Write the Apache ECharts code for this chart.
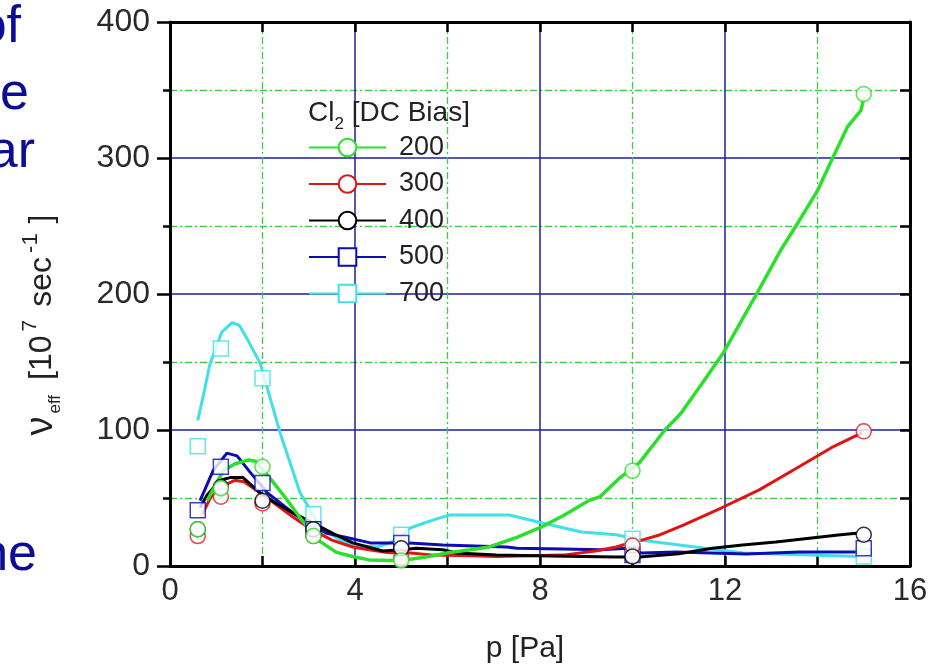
<!DOCTYPE html>
<html>
<head>
<meta charset="utf-8">
<script src="https://cdn.jsdelivr.net/npm/echarts@6/dist/echarts.min.js"></script>
<style>
html,body{margin:0;padding:0;background:#fff;}
#main{width:934px;height:668px;}
</style>
</head>
<body>
<div id="main"></div>
<script>
// legend names (DC bias)
var biasNames = ['200', '300', '400', '500', '700'];
var xTicks = [0, 4, 8, 12, 16];
var yTicks = [0, 100, 200, 300, 400];

// measured points (markers)
var marks200 = [[0.6,27],[1.1,57],[2.0,73],[3.1,22],[5.0,4],[10.0,70],[15.0,347]];
var marks300 = [[0.6,22],[1.1,51],[2.0,46],[3.1,22],[5.0,6],[10.0,15],[15.0,99]];
var marks400 = [[0.6,27],[1.1,58],[2.0,48],[3.1,27],[5.0,13],[10.0,7],[15.0,23]];
var marks500 = [[0.6,41],[1.1,73],[2.0,61],[3.1,27],[5.0,17],[10.0,8],[15.0,13]];
var marks700 = [[0.6,88],[1.1,160],[2.0,138],[3.1,38],[5.0,23],[10.0,20],[15.0,7]];

// fitted curves
var curve200 = [[0.8,48],[1.15,70],[1.4,75],[1.7,78],[1.85,77],[2.2,63],[2.5,50],[2.8,36],[3.2,19],[3.6,10],[3.95,7],[4.3,4.5],[4.75,4],[5.2,5],[5.6,7],[6.05,10],[6.5,12],[6.9,14],[7.5,21],[8.05,29],[8.5,37],[9.05,48],[9.3,51],[9.7,64],[10.15,76],[10.7,100],[11.04,112],[11.5,134],[11.97,157],[12.7,201],[13.2,232],[13.57,252],[14.0,276],[14.3,298],[14.65,323],[14.94,335],[15.0,344]];
var curve300 = [[0.7,38],[0.87,50],[1.15,59],[1.4,63],[1.6,62],[1.94,54],[2.3,45],[2.66,36],[2.96,29],[3.5,19],[3.95,14],[4.3,12],[4.7,10],[5.2,9.5],[5.7,8],[6.5,7.5],[7.06,7],[8.5,8],[9.2,11],[9.65,14],[9.9,16.5],[10.2,19],[10.6,23],[11.1,30],[11.94,43],[12.74,56],[13.6,73],[14.3,87],[14.97,98]];
var curve400 = [[0.65,43],[0.8,52],[1.08,63],[1.3,65],[1.58,65],[1.94,54],[2.3,46],[2.66,39],[2.96,34],[3.52,24],[3.95,17],[4.6,11],[5.0,12],[5.33,13],[5.9,12],[6.2,9.5],[7.06,8],[8.2,7.4],[9.65,6.6],[10.15,6.6],[11.0,9],[11.73,13],[12.38,15.4],[13.1,17.6],[13.97,21],[14.5,23],[14.84,24]];
var curve500 = [[0.65,48],[0.93,70],[1.23,83],[1.45,81],[1.73,69],[2.1,54],[2.66,39],[2.87,34],[3.39,24],[3.82,21],[4.33,17],[5.18,17],[5.9,15.4],[7.28,14],[7.5,13],[8.5,12.5],[9.3,12],[9.9,13],[10.2,9.5],[10.95,10.3],[12.46,8.8],[13.6,10.3],[14.97,10.3]];
var curve700 = [[0.6,107],[0.75,130],[0.86,148],[1.12,172],[1.34,179],[1.5,177],[1.7,165],[1.95,149],[2.38,98],[2.81,54],[3.24,29],[3.68,19],[3.96,15],[4.5,14],[4.9,19],[5.2,28],[5.5,31.6],[5.8,35],[6.05,37.5],[7.34,37.5],[8.0,32],[8.9,25],[9.65,23],[10.2,19],[11.1,15],[12.4,9.5],[14.9,7]];

var colors = {'200':'#2be02b','300':'#e01414','400':'#000000','500':'#0c0cb4','700':'#3fe0e6'};
var curves = {'200':curve200,'300':curve300,'400':curve400,'500':curve500,'700':curve700};
var marks = {'200':marks200,'300':marks300,'400':marks400,'500':marks500,'700':marks700};
var symbols = {'200':'emptyCircle','300':'emptyCircle','400':'emptyCircle','500':'emptyRect','700':'emptyRect'};

var myChart = echarts.init(document.getElementById('main'));
var font = '"Liberation Sans", Arial, sans-serif';
var blueGrid = '#1e1e9e';
var greenGrid = '#3ccf3c';
var slideBlue = '#0c0c96';
var ink = '#222';

var series = [];
var drawOrder = ['700', '500', '300', '400', '200'];
drawOrder.forEach(function (k) {
    series.push({
        name: k,
        type: 'line',
        data: curves[k],
        symbol: symbols[k],
        showSymbol: false,
        symbolSize: 16,
        animation: false,
        lineStyle: {color: colors[k], width: k === '200' ? 3.5 : 3},
        itemStyle: {color: colors[k]},
        z: 3
    });
});
drawOrder.forEach(function (k) {
    series.push({
        name: k,
        type: 'scatter',
        data: marks[k],
        symbol: symbols[k] === 'emptyRect' ? 'rect' : 'circle',
        symbolSize: 15,
        animation: false,
        itemStyle: {color: '#fff', borderColor: colors[k], borderWidth: 1.5},
        z: 5
    });
});

function rt(size, va, pad) {
    return {fontSize: size, color: ink, fontFamily: font, lineHeight: 44, verticalAlign: va, padding: [0, 0, 0, pad]};
}

var option = {
    backgroundColor: '#fff',
    textStyle: {fontFamily: font},
    grid: {left: 170, right: 24, top: 22, bottom: 102, containLabel: false, outerBoundsMode: 'none'},
    title: {
        text: '{a|Cl}{s|2}{a| [DC Bias]}',
        left: 303,
        top: 94,
        textStyle: {
            fontWeight: 'normal',
            rich: {
                a: {fontSize: 28, color: ink, fontFamily: font, fontWeight: 'normal', lineHeight: 34, verticalAlign: 'top'},
                s: {fontSize: 17, color: ink, fontFamily: font, fontWeight: 'normal', lineHeight: 34, verticalAlign: 'bottom'}
            }
        }
    },
    legend: {
        data: biasNames,
        orient: 'vertical',
        left: 303,
        top: 129,
        itemWidth: 77,
        itemHeight: 22,
        itemGap: 9.5,
        selectedMode: false,
        textStyle: {fontSize: 27, color: ink, fontFamily: font, padding: [0, 0, 0, 8]}
    },
    xAxis: [{
        type: 'value',
        min: 0,
        max: 16,
        interval: 4,
        name: 'p [Pa]',
        nameLocation: 'middle',
        nameGap: 68,
        nameTextStyle: {fontSize: 30, color: ink, fontFamily: font, padding: [0, 30, 0, 0]},
        axisLine: {show: true, onZero: false, lineStyle: {color: '#000', width: 3}},
        axisTick: {show: true, inside: true, length: 10, lineStyle: {color: '#000', width: 2.5}},
        minorTick: {show: true, splitNumber: 2, length: 10, lineStyle: {color: '#000', width: 2.5}},
        axisLabel: {fontSize: 31, color: '#2a2a2a', margin: 10, fontFamily: font,
            formatter: function (v) { return xTicks.indexOf(v) >= 0 ? String(v) : ''; }},
        splitLine: {show: true, lineStyle: {color: blueGrid, width: 1.5}},
        minorSplitLine: {show: true, lineStyle: {color: greenGrid, width: 1.3, type: [7, 3, 2, 3]}}
    }, {
        type: 'value',
        position: 'top',
        min: 0,
        max: 16,
        interval: 4,
        axisLine: {show: true, onZero: false, lineStyle: {color: '#000', width: 3}},
        axisTick: {show: true, inside: true, length: 10, lineStyle: {color: '#000', width: 2.5}},
        minorTick: {show: true, splitNumber: 2, length: 10, lineStyle: {color: '#000', width: 2.5}},
        axisLabel: {show: false},
        splitLine: {show: false}
    }],
    yAxis: [{
        type: 'value',
        min: 0,
        max: 400,
        interval: 100,
        name: '{nu|ν}{sub|eff}{b|[10}{sup|7}{s|sec}{sup2|-1}{e|]}',
        nameLocation: 'middle',
        nameRotate: 90,
        nameGap: 106,
        nameTextStyle: {
            padding: [0, 62, 0, 0],
            rich: {
                nu: rt(38, 'middle', 0),
                sub: rt(17, 'bottom', 3),
                b: rt(32, 'middle', 15),
                sup: rt(21, 'top', 4),
                s: rt(32, 'middle', 13),
                sup2: rt(22, 'top', 4),
                e: rt(32, 'middle', 10)
            }
        },
        axisLine: {show: true, onZero: false, lineStyle: {color: '#000', width: 3}},
        axisTick: {show: true, inside: false, length: 13, lineStyle: {color: '#000', width: 2.5}},
        minorTick: {show: true, splitNumber: 2, length: 7, lineStyle: {color: '#000', width: 2.5}},
        axisLabel: {fontSize: 32, color: '#2a2a2a', margin: 20, fontFamily: font,
            formatter: function (v) { return yTicks.indexOf(v) >= 0 ? String(v) : ''; }},
        splitLine: {show: true, lineStyle: {color: blueGrid, width: 1.5}},
        minorSplitLine: {show: true, lineStyle: {color: greenGrid, width: 1.3, type: [7, 3, 2, 3]}}
    }, {
        type: 'value',
        position: 'right',
        min: 0,
        max: 400,
        interval: 100,
        axisLine: {show: true, onZero: false, lineStyle: {color: '#000', width: 3}},
        axisTick: {show: true, inside: true, length: 10, lineStyle: {color: '#000', width: 2.5}},
        minorTick: {show: true, splitNumber: 2, length: 10, lineStyle: {color: '#000', width: 2.5}},
        axisLabel: {show: false},
        splitLine: {show: false}
    }],
    graphic: [
        {type: 'text', x: 21, y: 28, style: {text: 'of', font: '52px "Liberation Sans", Arial', fill: slideBlue, align: 'right', verticalAlign: 'middle'}},
        {type: 'text', x: 29, y: 95, style: {text: 'he', font: '52px "Liberation Sans", Arial', fill: slideBlue, align: 'right', verticalAlign: 'middle'}},
        {type: 'text', x: 35, y: 153, style: {text: 'ear', font: '52px "Liberation Sans", Arial', fill: slideBlue, align: 'right', verticalAlign: 'middle'}},
        {type: 'text', x: 37, y: 556, style: {text: 'ne', font: '52px "Liberation Sans", Arial', fill: slideBlue, align: 'right', verticalAlign: 'middle'}}
    ],
    series: series
};

myChart.setOption(option);
</script>
</body>
</html>
